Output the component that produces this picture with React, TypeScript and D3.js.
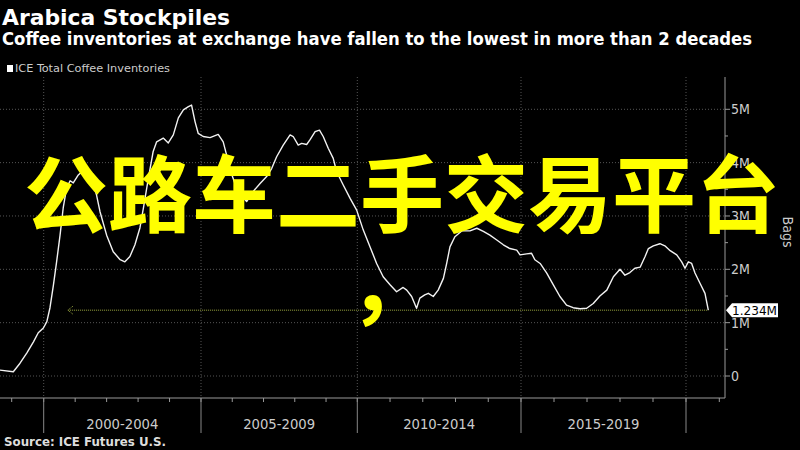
import React from 'react';
import * as d3 from 'd3';

// ICE total coffee inventories (million bags)
const YEARS = [
  1998.63, 1999.05, 1999.26, 1999.47, 1999.68, 1999.83, 1999.99, 2000.10, 2000.20, 2000.31,
  2000.41, 2000.52, 2000.62, 2000.73, 2000.84, 2000.94, 2001.10, 2001.34, 2001.54, 2001.68,
  2001.79, 2002.00, 2002.21, 2002.43, 2002.58, 2002.74, 2002.90, 2003.06, 2003.17, 2003.32,
  2003.48, 2003.59, 2003.80, 2003.96, 2004.12, 2004.28, 2004.44, 2004.60, 2004.70, 2004.81,
  2004.91, 2005.07, 2005.29, 2005.55, 2005.71, 2005.82, 2005.99, 2006.18, 2006.46, 2006.67,
  2006.89, 2007.10, 2007.26, 2007.42, 2007.63, 2007.85, 2007.95, 2008.11, 2008.22, 2008.38,
  2008.49, 2008.65, 2008.79, 2008.91, 2009.07, 2009.23, 2009.34, 2009.55, 2009.77, 2009.98,
  2010.18, 2010.39, 2010.59, 2010.79, 2011.00, 2011.20, 2011.40, 2011.51, 2011.66, 2011.81,
  2011.91, 2012.06, 2012.17, 2012.32, 2012.47, 2012.63, 2012.73, 2012.83, 2012.98, 2013.19,
  2013.44, 2013.65, 2013.85, 2014.05, 2014.26, 2014.46, 2014.66, 2014.87, 2014.97, 2015.17,
  2015.32, 2015.42, 2015.58, 2015.78, 2015.98, 2016.18, 2016.38, 2016.58, 2016.79, 2016.99,
  2017.19, 2017.39, 2017.60, 2017.80, 2018.00, 2018.15, 2018.30, 2018.45, 2018.61, 2018.76,
  2018.86, 2019.01, 2019.21, 2019.36, 2019.52, 2019.72, 2019.87, 2019.97, 2020.07, 2020.17,
  2020.27, 2020.42, 2020.57, 2020.67,
];
const INVENTORIES = [
  0.11, 0.08, 0.24, 0.43, 0.64, 0.81, 0.90, 1.02, 1.28, 1.71,
  2.14, 2.64, 3.15, 3.53, 3.66, 3.62, 3.77, 3.90, 3.68, 3.39,
  3.08, 2.64, 2.33, 2.18, 2.14, 2.24, 2.46, 2.78, 3.15, 3.68,
  4.21, 4.39, 4.46, 4.37, 4.52, 4.84, 4.99, 5.05, 5.08, 4.77,
  4.55, 4.49, 4.47, 4.53, 4.39, 4.14, 3.77, 3.45, 3.27, 3.46,
  3.61, 3.74, 3.89, 4.11, 4.33, 4.52, 4.49, 4.33, 4.36, 4.34,
  4.43, 4.58, 4.61, 4.49, 4.27, 4.08, 3.83, 3.58, 3.33, 3.11,
  2.74, 2.42, 2.11, 1.86, 1.71, 1.58, 1.66, 1.61, 1.49, 1.27,
  1.46, 1.52, 1.55, 1.49, 1.61, 1.83, 2.11, 2.42, 2.61, 2.72,
  2.72, 2.77, 2.71, 2.64, 2.55, 2.46, 2.39, 2.36, 2.27, 2.29,
  2.30, 2.18, 2.11, 1.93, 1.71, 1.49, 1.33, 1.28, 1.26, 1.27,
  1.36, 1.50, 1.61, 1.86, 2.00, 1.89, 1.94, 2.02, 2.04, 2.24,
  2.39, 2.44, 2.48, 2.44, 2.35, 2.27, 2.14, 2.02, 2.14, 2.11,
  1.93, 1.74, 1.55, 1.234,
];

const AXIS_YEARS = [1999, 2000, 2005, 2010, 2015, 2020, 2021];
const MAJOR_YEARS = [2000, 2005, 2010, 2015, 2020];
const PERIOD_LABELS = ['2000-2004', '2005-2009', '2010-2014', '2015-2019'];
const Y_TICKS = [0, 1, 2, 3, 4, 5];
const LATEST_VALUE = 1.234;
const LATEST_LABEL = '1.234M';
const LOW_SINCE_YEAR = 2000.77;

const TITLE = 'Arabica Stockpiles';
const SUBTITLE = 'Coffee inventories at exchange have fallen to the lowest in more than 2 decades';
const LEGEND = 'ICE Total Coffee Inventories';
const SOURCE = 'Source: ICE Futures U.S.';
const Y_TITLE = 'Bags';
const OVERLAY_LINES = ['公路车二手交易平台', '，'];

const W = 800;
const H = 450;
const FONT = "'DejaVu Sans Condensed', 'Liberation Sans Narrow', 'DejaVu Sans', sans-serif";

export default function App() {
  const plotTop = 77;
  const axisY = 398;
  const axisX = 725;

  const x = d3
    .scaleLinear()
    .domain(AXIS_YEARS)
    .range([11.7, 43.7, 201, 357.3, 521, 686, 719.3]);
  const y = d3.scaleLinear().domain([0, 5]).range([376, 109.3]);

  const data = YEARS.map((yr, i) => ({ yr, v: INVENTORIES[i] }));
  const line = d3
    .line<{ yr: number; v: number }>()
    .x((d) => x(d.yr))
    .y((d) => y(d.v));

  const minorYears = d3.range(1999, 2022);
  const halfTicks = d3.range(0.5, 5.5, 1);
  const lastYear = YEARS[YEARS.length - 1];
  const ly = y(LATEST_VALUE);
  const arrowX = x(LOW_SINCE_YEAR);

  return (
    <svg
      width={W}
      height={H}
      style={{ position: 'absolute', left: 0, top: 0, display: 'block', background: '#000' }}
    >
      <rect x={0} y={0} width={W} height={H} fill="#000" />

      {/* title */}
      <text x={2} y={25} fill="#fff" fontFamily={FONT} fontWeight="bold" fontSize={22}
        textLength={228} lengthAdjust="spacingAndGlyphs">{TITLE}</text>
      <text x={2} y={45} fill="#fff" fontFamily={FONT} fontWeight="bold" fontSize={17.5}
        textLength={750} lengthAdjust="spacingAndGlyphs">{SUBTITLE}</text>

      {/* legend */}
      <rect x={7} y={65} width={6} height={7} fill="#fff" />
      <text x={15} y={71.5} fill="#ccc" fontFamily={FONT} fontSize={10}
        textLength={155} lengthAdjust="spacingAndGlyphs">{LEGEND}</text>

      {/* horizontal grid */}
      {Y_TICKS.map((t) => (
        <line key={'hg' + t} x1={0} x2={axisX} y1={y(t)} y2={y(t)}
          stroke="#555" strokeWidth={1} strokeDasharray="1,2" />
      ))}
      {/* vertical grid */}
      {MAJOR_YEARS.map((yr) => (
        <line key={'vg' + yr} x1={x(yr)} x2={x(yr)} y1={plotTop} y2={axisY}
          stroke="#555" strokeWidth={1} strokeDasharray="1,2" />
      ))}

      {/* x axis */}
      <line x1={0} x2={axisX} y1={axisY} y2={axisY} stroke="#999" strokeWidth={1} />
      {minorYears.map((yr) => (
        <line key={'mt' + yr} x1={x(yr)} x2={x(yr)} y1={axisY} y2={axisY + 4}
          stroke="#999" strokeWidth={1} />
      ))}
      {MAJOR_YEARS.map((yr) => (
        <line key={'Mt' + yr} x1={x(yr)} x2={x(yr)} y1={axisY} y2={433}
          stroke="#888" strokeWidth={1} />
      ))}
      {PERIOD_LABELS.map((lab, i) => (
        <text key={lab} x={(x(MAJOR_YEARS[i]) + x(MAJOR_YEARS[i + 1])) / 2} y={429}
          fill="#ccc" fontFamily={FONT} fontSize={14} textAnchor="middle"
          textLength={72} lengthAdjust="spacingAndGlyphs">{lab}</text>
      ))}

      {/* y axis */}
      <line x1={axisX} x2={axisX} y1={plotTop} y2={axisY} stroke="#999" strokeWidth={1} />
      {Y_TICKS.map((t) => (
        <g key={'yt' + t}>
          <line x1={axisX} x2={axisX + 5} y1={y(t)} y2={y(t)} stroke="#999" strokeWidth={1} />
          <text x={axisX + 6} y={y(t) + 5} fill="#ccc" fontFamily={FONT} fontSize={14}>
            {t === 0 ? '0' : `${t}M`}
          </text>
        </g>
      ))}
      {halfTicks.map((t) => (
        <line key={'ht' + t} x1={axisX} x2={axisX + 3} y1={y(t)} y2={y(t)} stroke="#999" strokeWidth={1} />
      ))}
      <text transform={`translate(783,232) rotate(90)`} fill="#ccc" fontFamily={FONT}
        fontSize={14} textAnchor="middle">{Y_TITLE}</text>

      {/* latest level reference */}
      <line x1={arrowX} x2={x(lastYear)} y1={ly} y2={ly} stroke="#9aa640" strokeWidth={1}
        strokeDasharray="1,1" />
      <path d={`M${arrowX + 5},${ly - 4} L${arrowX},${ly} L${arrowX + 5},${ly + 4}`}
        fill="none" stroke="#9aa640" strokeWidth={1} strokeDasharray="1,1" />

      {/* series */}
      <path d={line(data) || ''} fill="none" stroke="#f2f2f2" strokeWidth={1.4}
        strokeLinejoin="round" />

      {/* latest value box */}
      <path d={`M${axisX + 1},${ly} L${axisX + 7},${ly - 7} L778,${ly - 7} L778,${ly + 7} L${axisX + 7},${ly + 7} Z`}
        fill="#fff" />
      <text x={axisX + 7} y={ly + 5} fill="#000" fontFamily={FONT} fontSize={13}
        textLength={45} lengthAdjust="spacingAndGlyphs">{LATEST_LABEL}</text>

      {/* source */}
      <text x={4} y={446} fill="#ddd" fontFamily={FONT} fontWeight="bold" fontSize={12}
        textLength={162} lengthAdjust="spacingAndGlyphs">{SOURCE}</text>

      {/* overlay */}
      {OVERLAY_LINES.map((t, i) => (
        <text key={'ov' + i} x={i === 0 ? 402 : 391} y={i === 0 ? 226 : 315} fill="#ffff00"
          fontFamily="'Noto Sans CJK SC', sans-serif" fontWeight="bold" fontSize={84}
          textAnchor="middle">{t}</text>
      ))}
    </svg>
  );
}
